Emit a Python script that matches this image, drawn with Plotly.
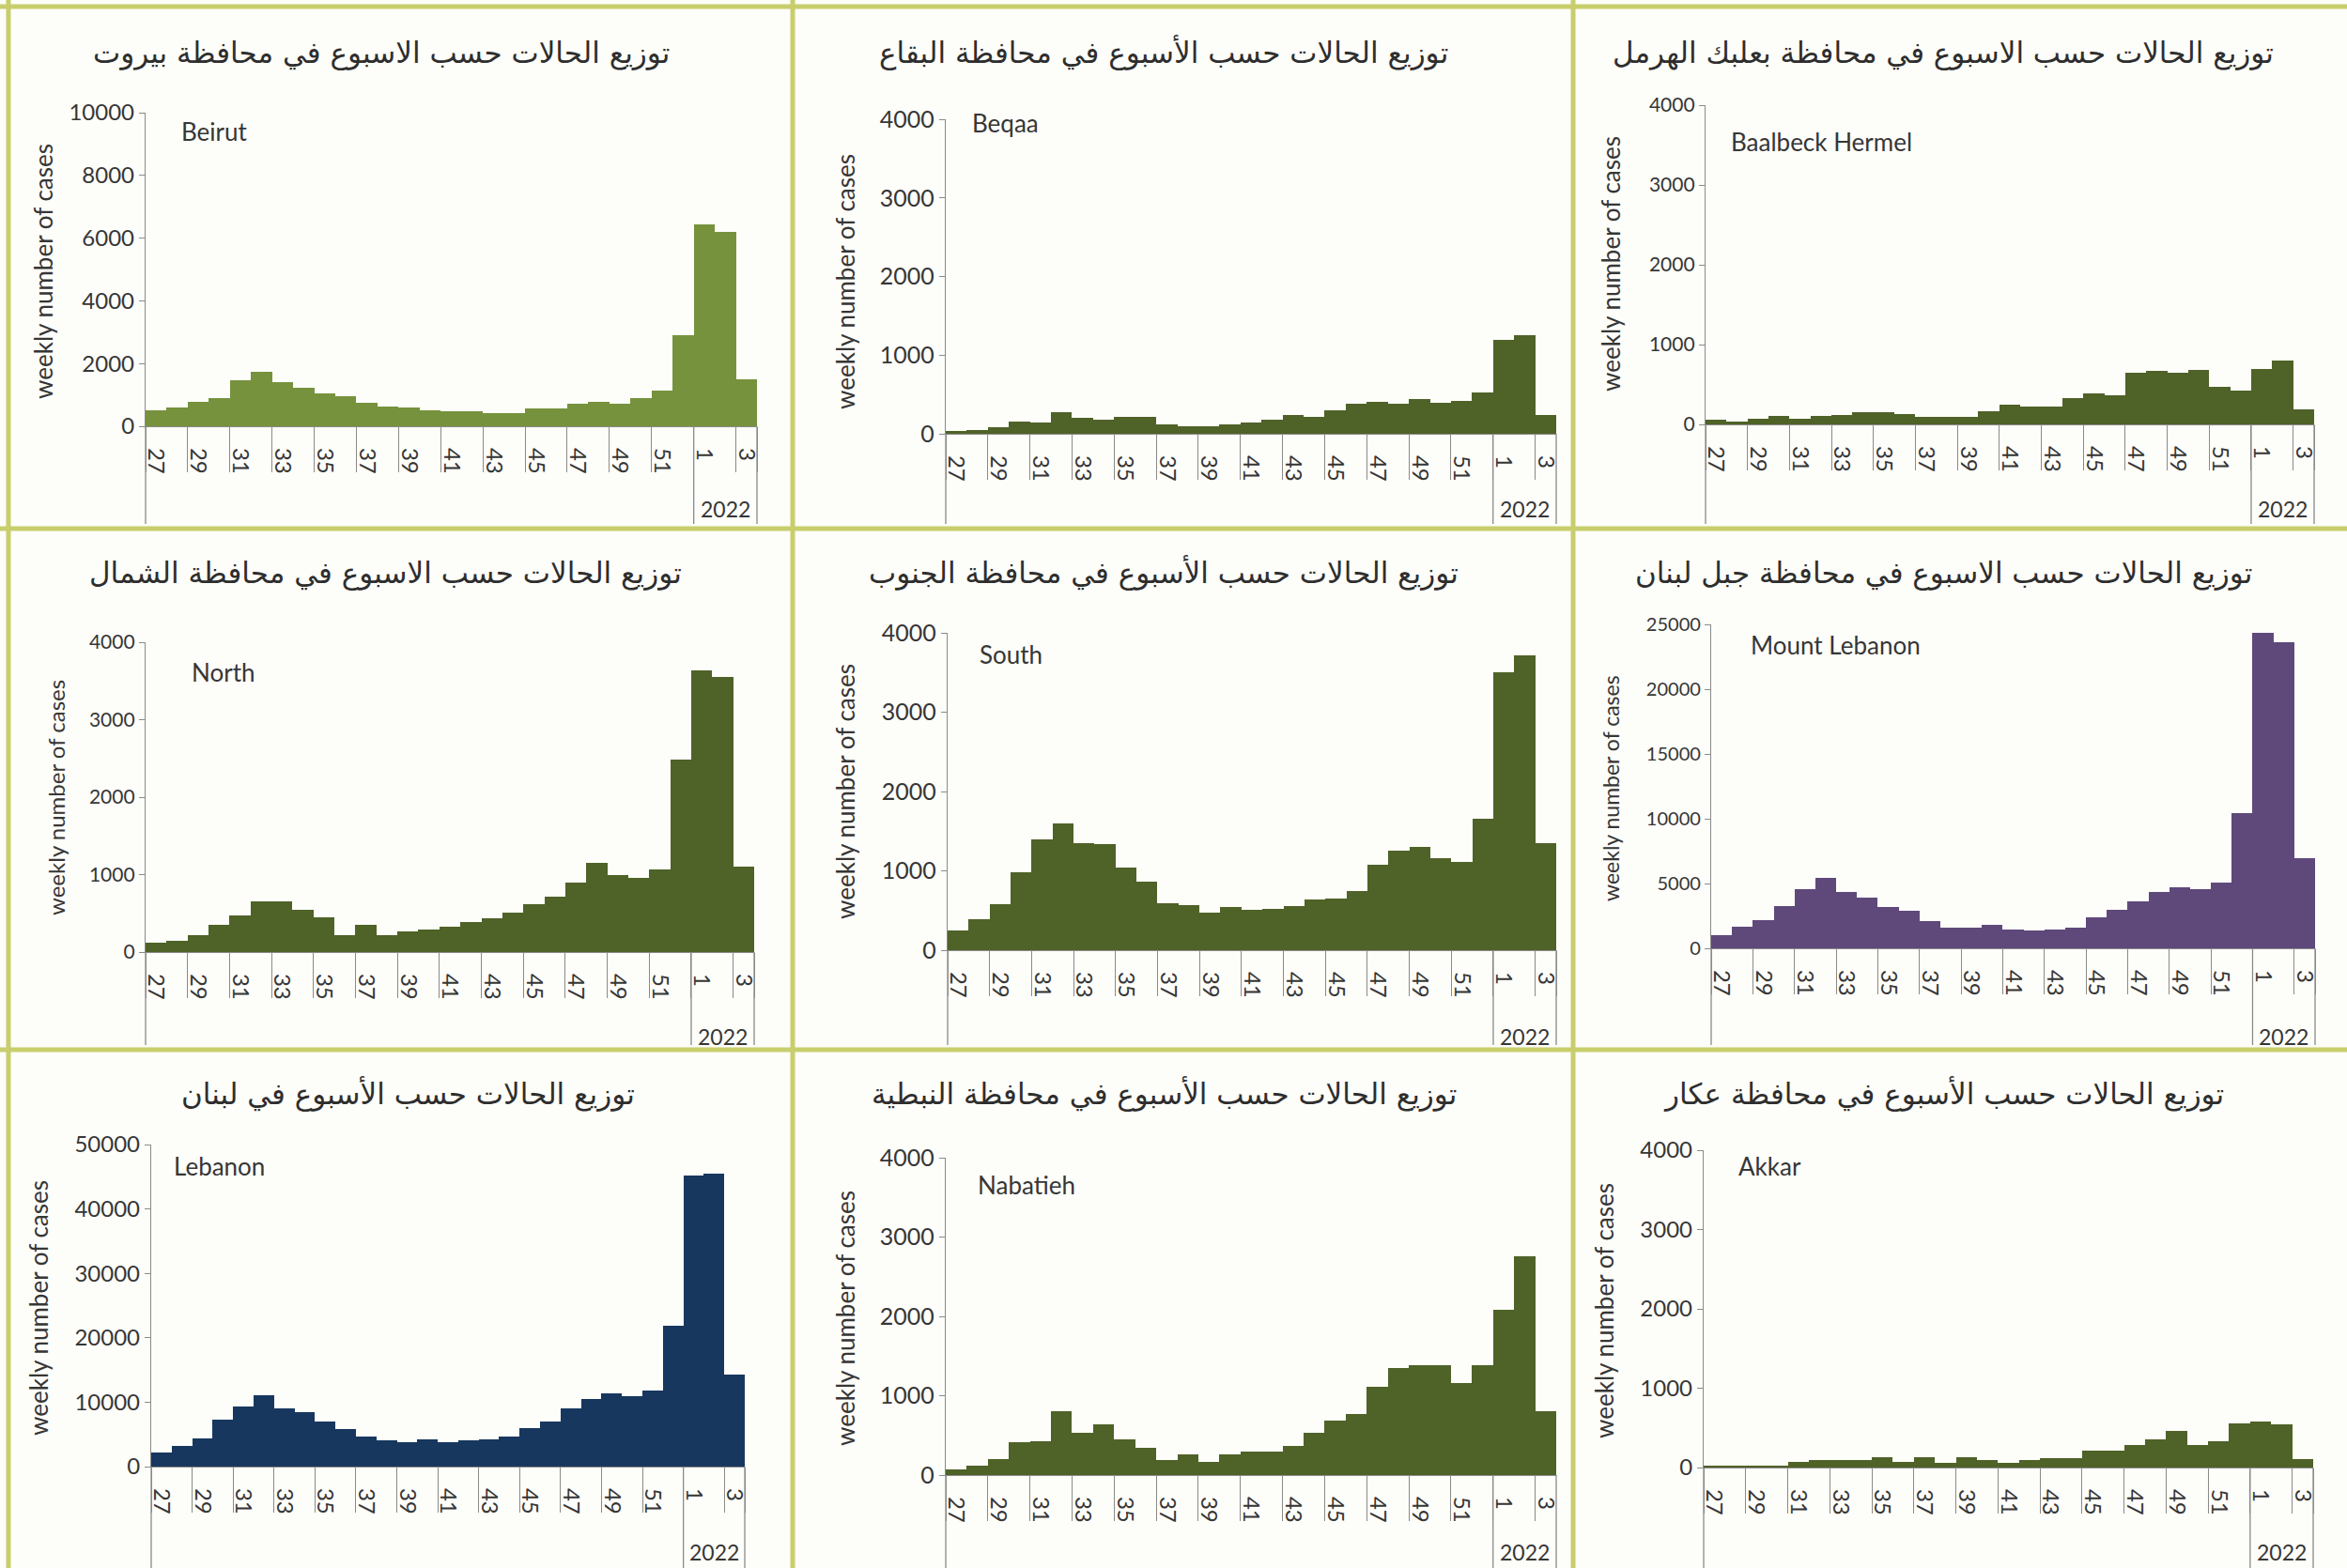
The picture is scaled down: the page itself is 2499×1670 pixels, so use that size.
import plotly.graph_objects as go

# ---------------- data ----------------
weeks = [str(w) for w in range(27, 53)] + ["1", "2", "3"]
tick_labels = ["27", "29", "31", "33", "35", "37", "39", "41", "43", "45", "47", "49", "51", "1", "3"]
year_label = "2022"

beirut = [500, 610, 770, 900, 1460, 1750, 1410, 1230, 1040, 960, 740, 630, 610, 500, 470, 470,
          420, 420, 580, 580, 715, 770, 715, 900, 1140, 2900, 6450, 6210, 1490]
beqaa = [40, 50, 85, 160, 140, 270, 200, 180, 210, 210, 115, 95, 95, 115, 140, 185, 235, 215,
         300, 385, 405, 385, 440, 390, 415, 525, 1190, 1255, 235]
baalbeck = [60, 30, 70, 105, 70, 105, 113, 155, 155, 125, 100, 100, 100, 170, 245, 225, 225,
            330, 385, 365, 650, 665, 645, 685, 470, 425, 700, 805, 190]
north = [125, 145, 220, 355, 475, 660, 660, 540, 450, 220, 350, 220, 265, 290, 330, 385, 440,
         505, 615, 715, 900, 1155, 1000, 960, 1070, 2490, 3640, 3550, 1100]
south = [245, 395, 580, 980, 1400, 1600, 1355, 1340, 1040, 860, 590, 570, 475, 545, 510, 525,
         560, 635, 655, 750, 1075, 1260, 1300, 1160, 1110, 1655, 3505, 3720, 1355]
mount_lebanon = [1050, 1700, 2160, 3290, 4600, 5450, 4340, 3900, 3160, 2900, 2100, 1630, 1630,
                 1790, 1450, 1370, 1450, 1630, 2370, 2950, 3630, 4340, 4740, 4530, 5050, 10450,
                 24340, 23600, 6970]
lebanon = [2240, 3230, 4430, 7290, 9380, 11100, 9110, 8440, 7030, 5830, 4690, 4010, 3750, 4170,
           3750, 4010, 4170, 4690, 5990, 6930, 9110, 10520, 11300, 10940, 11880, 21875, 45160,
           45420, 14320]
nabatieh = [70, 115, 200, 410, 430, 800, 535, 640, 450, 340, 190, 260, 165, 255, 295, 295, 370,
            535, 690, 770, 1115, 1350, 1390, 1390, 1160, 1380, 2080, 2755, 800]
akkar = [25, 25, 25, 25, 75, 95, 95, 95, 125, 75, 125, 65, 125, 95, 65, 95, 120, 120, 210, 210,
         290, 350, 465, 290, 330, 560, 585, 550, 105]

region_names = ["Beirut", "Beqaa", "Baalbeck Hermel", "North", "South", "Mount Lebanon",
                "Lebanon", "Nabatieh", "Akkar"]
titles = [
    "توزيع الحالات حسب الاسبوع في محافظة بيروت",
    "توزيع الحالات حسب الأسبوع في محافظة البقاع",
    "توزيع الحالات حسب الاسبوع في محافظة بعلبك الهرمل",
    "توزيع الحالات حسب الاسبوع في محافظة الشمال",
    "توزيع الحالات حسب الأسبوع في محافظة الجنوب",
    "توزيع الحالات حسب الاسبوع في محافظة جبل لبنان",
    "توزيع الحالات حسب الأسبوع في لبنان",
    "توزيع الحالات حسب الأسبوع في محافظة النبطية",
    "توزيع الحالات حسب الأسبوع في محافظة عكار",
]
series = [beirut, beqaa, baalbeck, north, south, mount_lebanon, lebanon, nabatieh, akkar]
y_max = [10000, 4000, 4000, 4000, 4000, 25000, 50000, 4000, 4000]
y_step = [2000, 1000, 1000, 1000, 1000, 5000, 10000, 1000, 1000]
y_title = "weekly number of cases"

# ---------------- styling / layout ----------------
W, H = 2499, 1670
GREEN_L = "#76923C"
GREEN_D = "#4F6228"
PURPLE = "#5F497A"
NAVY = "#17375E"
colors = [GREEN_L, GREEN_D, GREEN_D, GREEN_D, GREEN_D, PURPLE, NAVY, GREEN_D, GREEN_D]
AX = "#8a8a8a"
TXT = "#363636"
BORDER = "#c8ce6c"
FONT = "Lato, 'Open Sans', sans-serif"
AR_FONT = "'DejaVu Sans', sans-serif"

# plot geometry in pixels: x_left, x_right, y_zero, y_top, panel_bottom
geom = [
    (155, 806, 454, 120, 558),
    (1007, 1657, 462, 127, 558),
    (1816, 2464, 452, 112, 558),
    (155, 803, 1014, 684, 1113),
    (1009, 1657, 1012, 674, 1113),
    (1822, 2465, 1010, 665, 1113),
    (161, 793, 1562, 1219, 1670),
    (1007, 1657, 1571, 1233, 1670),
    (1814, 2463, 1563, 1225, 1670),
]
title_pos = [(406, 56), (1239, 56), (2069, 56), (411, 610), (1239, 610), (2069, 610),
             (434, 1165), (1239, 1165), (2069, 1165)]
ytitle_pos = [(46, 289), (900, 300), (1715, 281), (59, 850), (900, 843), (1715, 840),
              (41, 1393), (900, 1404), (1708, 1396)]
ytitle_size = [26, 26, 26, 24, 26, 23, 26, 26, 26]
ytick_size = [24, 25, 21, 21, 25, 20, 24, 25, 24]
label_pos = [(191, 140), (1033, 131), (1841, 151), (202, 716), (1041, 697), (1862, 687),
             (183, 1242), (1039, 1262), (1849, 1242)]
year_y = [542, 542, 542, 1104, 1104, 1104, 1653, 1653, 1653]


def fx(p):
    return p / W


def fy(p):
    return 1 - p / H


fig = go.Figure()
shapes = []
annotations = []
layout_axes = {}

n_cat = len(weeks)
i_year_start = weeks.index("1")
i_year_mid = weeks.index("2")

for k in range(9):
    n = k + 1
    xa = "x" if n == 1 else f"x{n}"
    ya = "y" if n == 1 else f"y{n}"
    xl, xr, y0, yt, pb = geom[k]
    fig.add_trace(go.Bar(x=weeks, y=series[k], xaxis=xa, yaxis=ya,
                         marker=dict(color=colors[k], line=dict(width=0)),
                         showlegend=False, hoverinfo="x+y"))
    layout_axes["xaxis" if n == 1 else f"xaxis{n}"] = dict(
        domain=[fx(xl), fx(xr)], anchor=ya, type="category",
        categoryorder="array", categoryarray=weeks, range=[-0.5, n_cat - 0.5],
        tickmode="array", tickvals=tick_labels, ticktext=tick_labels,
        tickangle=90, ticks="outside", tickson="boundaries", ticklen=48,
        tickcolor=AX, tickwidth=1.3, showline=True, linecolor=AX, linewidth=1.3,
        tickfont=dict(family=FONT, size=24, color=TXT), ticklabelstandoff=17,
        showgrid=False, zeroline=False, fixedrange=True, automargin=False)
    layout_axes["yaxis" if n == 1 else f"yaxis{n}"] = dict(
        domain=[fy(y0), fy(yt)], anchor=xa, range=[0, y_max[k]], dtick=y_step[k],
        tick0=0, tickformat="d", ticks="outside", ticklen=6, tickcolor=AX, tickwidth=1.3,
        showline=True, linecolor=AX, linewidth=1.3, showgrid=False, zeroline=False,
        tickfont=dict(family=FONT, size=ytick_size[k], color=TXT), fixedrange=True,
        automargin=False)
    # extension of the vertical axis and 2022 group separators below the category labels
    for frac in (0.0, i_year_start / n_cat, 1.0):
        shapes.append(dict(type="line", xref=f"{xa} domain", yref="paper", x0=frac, x1=frac,
                           y0=fy(y0), y1=fy(pb), line=dict(color=AX, width=1.3)))
    annotations.append(dict(xref=f"{xa} domain", yref="paper",
                            x=(i_year_mid + 0.5) / n_cat, y=fy(year_y[k]),
                            text=year_label, showarrow=False, xanchor="center",
                            yanchor="middle", font=dict(family=FONT, size=23, color=TXT)))
    # titles
    tx, ty = title_pos[k]
    annotations.append(dict(xref="paper", yref="paper", x=fx(tx), y=fy(ty), text=titles[k],
                            showarrow=False, xanchor="center", yanchor="middle",
                            font=dict(family=AR_FONT, size=31, color="#2e2e2e")))
    # y title
    ax_, ay_ = ytitle_pos[k]
    annotations.append(dict(xref="paper", yref="paper", x=fx(ax_), y=fy(ay_), text=y_title,
                            showarrow=False, textangle=-90, xanchor="center",
                            yanchor="middle",
                            font=dict(family=FONT, size=ytitle_size[k], color=TXT)))
    # region label
    lx, ly = label_pos[k]
    annotations.append(dict(xref="paper", yref="paper", x=fx(lx), y=fy(ly),
                            text=region_names[k], showarrow=False, xanchor="left",
                            yanchor="middle", font=dict(family=FONT, size=26, color=TXT)))

# panel frame lines
for (x0, y0_, x1, y1_) in [
    (0, 7, W, 7), (0, 563, W, 563), (0, 1118, W, 1118),
    (9, 0, 9, H), (844, 0, 844, H), (1675, 0, 1675, H),
]:
    shapes.append(dict(type="line", xref="paper", yref="paper", x0=fx(x0), x1=fx(x1),
                       y0=fy(y0_), y1=fy(y1_), line=dict(color=BORDER, width=5),
                       layer="below"))

fig.update_layout(
    width=W, height=H, autosize=False,
    margin=dict(l=0, r=0, t=0, b=0, pad=0, autoexpand=False),
    paper_bgcolor="#fdfdf9", plot_bgcolor="rgba(0,0,0,0)",
    bargap=0, shapes=shapes, annotations=annotations, showlegend=False,
    **layout_axes,
)

fig.write_html(
    "out.html",
    config={"displayModeBar": False},
    post_script=(
        "document.documentElement.style.margin='0';"
        "document.documentElement.style.overflow='hidden';"
        "document.body.style.margin='0';"
        "document.body.style.overflow='hidden';"
        "var d=document.getElementById('{plot_id}');"
        "d.style.position='fixed';d.style.top='0px';d.style.left='0px';"
    ),
)
